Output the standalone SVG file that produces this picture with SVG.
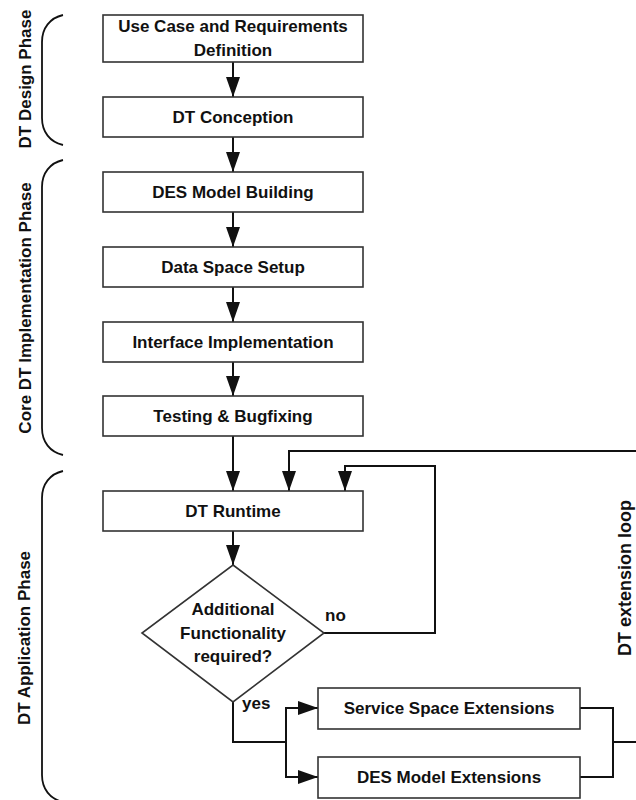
<svg xmlns="http://www.w3.org/2000/svg" width="636" height="800" viewBox="0 0 636 800">
<style>
.box{fill:#fff;stroke:#333;stroke-width:1.6}
.t{font-family:"Liberation Sans",Arial,sans-serif;font-weight:bold;font-size:17px;fill:#111;text-anchor:middle}
.l{font-family:"Liberation Sans",Arial,sans-serif;font-weight:bold;font-size:17px;fill:#111}
.c{fill:none;stroke:#111;stroke-width:2}
.br{fill:none;stroke:#111;stroke-width:1.8}
</style>
<defs>
<marker id="ah" viewBox="0 0 20 14" refX="20" refY="7" markerWidth="20" markerHeight="14" markerUnits="userSpaceOnUse" orient="auto">
<path d="M0,0 L20,7 L0,14 Z" fill="#111"/>
</marker>
</defs>
<rect width="636" height="800" fill="#fff"/>
<g id="phases">
<path class="br" d="M63,15 C50,18 42,28 42,42 L42,118 C42,132 50,142 63,145"/>
<path class="br" d="M63,160 C50,163 42,173 42,187 L42,428 C42,442 50,452 63,455"/>
<path class="br" d="M63,471 C50,474 42,484 42,498 L42,775 C42,789 50,799 63,802"/>
<text class="t" transform="translate(31,79) rotate(-90)">DT Design Phase</text>
<text class="t" transform="translate(31,308) rotate(-90)">Core DT Implementation Phase</text>
<text class="t" transform="translate(30,638) rotate(-90)">DT Application Phase</text>
<text class="t" style="font-size:18px" transform="translate(631,578) rotate(-90)">DT extension loop</text>
</g>
<g id="connectors">
<line class="c" x1="233" y1="62" x2="233" y2="97" marker-end="url(#ah)"/>
<line class="c" x1="233" y1="137" x2="233" y2="172" marker-end="url(#ah)"/>
<line class="c" x1="233" y1="212" x2="233" y2="247" marker-end="url(#ah)"/>
<line class="c" x1="233" y1="287" x2="233" y2="322" marker-end="url(#ah)"/>
<line class="c" x1="233" y1="362" x2="233" y2="396" marker-end="url(#ah)"/>
<line class="c" x1="233" y1="436" x2="233" y2="491" marker-end="url(#ah)"/>
<line class="c" x1="233" y1="531" x2="233" y2="565" marker-end="url(#ah)"/>
<polyline class="c" points="640,451 289,451 289,491" marker-end="url(#ah)"/>
<polyline class="c" points="324,633 435,633 435,466 345,466 345,491" marker-end="url(#ah)"/>
<polyline class="c" points="233,702 233,742 286,742"/>
<polyline class="c" points="286,742 286,708 318,708" marker-end="url(#ah)"/>
<polyline class="c" points="286,742 286,777 318,777" marker-end="url(#ah)"/>
<polyline class="c" points="580,708 613,708 613,777 580,777"/>
<line class="c" x1="613" y1="742" x2="640" y2="742"/>
<text class="l" x="325" y="621">no</text>
<text class="l" x="242" y="709">yes</text>
</g>
<g id="n1"><rect class="box" x="103" y="15" width="260" height="47"/><text class="t" x="233" y="32">Use Case and Requirements</text><text class="t" x="233" y="56">Definition</text></g>
<g id="n2"><rect class="box" x="103" y="97" width="260" height="40"/><text class="t" x="233" y="123">DT Conception</text></g>
<g id="n3"><rect class="box" x="103" y="172" width="260" height="40"/><text class="t" x="233" y="198">DES Model Building</text></g>
<g id="n4"><rect class="box" x="103" y="247" width="260" height="40"/><text class="t" x="233" y="273">Data Space Setup</text></g>
<g id="n5"><rect class="box" x="103" y="322" width="260" height="40"/><text class="t" x="233" y="348">Interface Implementation</text></g>
<g id="n6"><rect class="box" x="103" y="396" width="260" height="40"/><text class="t" x="233" y="422">Testing &amp; Bugfixing</text></g>
<g id="n7"><rect class="box" x="103" y="491" width="260" height="40"/><text class="t" x="233" y="517">DT Runtime</text></g>
<g id="n8"><polygon class="box" points="233,565 324,633 233,702 142,633"/><text class="t" x="233" y="615">Additional</text><text class="t" x="233" y="639">Functionality</text><text class="t" x="233" y="662">required?</text></g>
<g id="n9"><rect class="box" x="318" y="688" width="262" height="41"/><text class="t" x="449" y="714">Service Space Extensions</text></g>
<g id="n10"><rect class="box" x="318" y="757" width="262" height="41"/><text class="t" x="449" y="783">DES Model Extensions</text></g>
</svg>
